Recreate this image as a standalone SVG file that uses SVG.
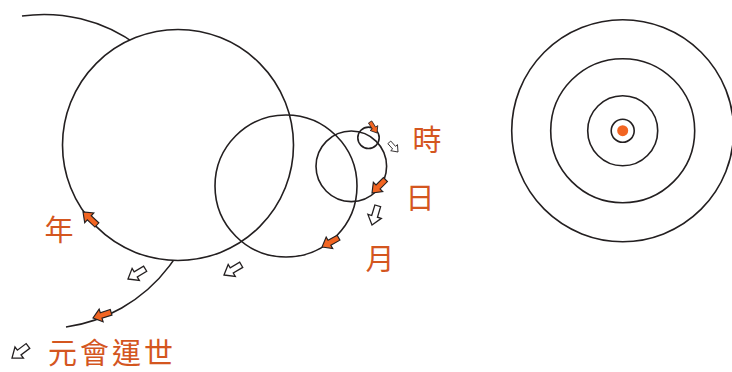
<svg xmlns="http://www.w3.org/2000/svg" width="732" height="372" viewBox="0 0 732 372">
<style>
.ln{fill:none;stroke:#231f20;stroke-width:1.6}
.fw{fill:#fff;stroke:#231f20;stroke-width:1.6}
.ao{fill:#f26522;stroke:#231f20;stroke-width:1.2;stroke-linejoin:miter}
.aw{fill:#fff;stroke:#231f20;stroke-width:1.3;stroke-linejoin:miter}
.tx{fill:#d4561f;font-family:"Noto Sans CJK TC","Noto Sans CJK SC",sans-serif;font-size:29px;text-anchor:middle;dominant-baseline:central}
</style>
<defs>
<path id="arr" d="M0,0 L-9,-7 L-9,-3 L-20,-3 L-20,3 L-9,3 L-9,7 Z"/>
</defs>
<g id="orbits">
<path id="yuan" class="ln" d="M22,16 A157,157 0 0 1 66,327"/>
<circle id="nian" class="fw" cx="178" cy="145" r="115.5"/>
<circle id="yue" class="ln" cx="286" cy="186" r="71"/>
<circle id="ri" class="ln" cx="351.3" cy="166.3" r="35.3"/>
<circle id="shi" class="ln" cx="368.5" cy="137.8" r="10.7"/>
</g>
<g id="target">
<circle class="ln" cx="622.7" cy="130.7" r="111"/>
<circle class="ln" cx="622.7" cy="130.7" r="72"/>
<circle class="ln" cx="622.7" cy="130.7" r="35"/>
<circle class="ln" cx="622.7" cy="130.7" r="11.5"/>
<circle cx="622.7" cy="130.7" r="5.5" fill="#f26522"/>
</g>
<g id="connectors">
<use href="#arr" class="ao" transform="translate(83,212) rotate(-137) scale(0.95)"/>
<use href="#arr" class="ao" transform="translate(93,318) rotate(162.5) scale(0.95)"/>
<use href="#arr" class="ao" transform="translate(322,247) rotate(150.6) scale(0.95)"/>
<use href="#arr" class="ao" transform="translate(372,193) rotate(135) scale(0.95)"/>
<use href="#arr" class="ao" transform="translate(377,133) rotate(58) scale(0.65)"/>
<use href="#arr" class="aw" transform="translate(128,279) rotate(149)"/>
<use href="#arr" class="aw" transform="translate(224,275) rotate(149.4)"/>
<use href="#arr" class="aw" transform="translate(12,358) rotate(143)"/>
<use href="#arr" class="aw" transform="translate(372,225) rotate(106.7)"/>
<use href="#arr" class="aw" transform="translate(398,152) rotate(48) scale(0.65)"/>
</g>
<g id="labels">
<text class="tx" x="427" y="138">時</text>
<text class="tx" x="420" y="196">日</text>
<text class="tx" x="380" y="257">月</text>
<text class="tx" x="59" y="228">年</text>
<text class="tx" x="112" y="351" font-size="28" letter-spacing="3">元會運世</text>
</g>
</svg>
